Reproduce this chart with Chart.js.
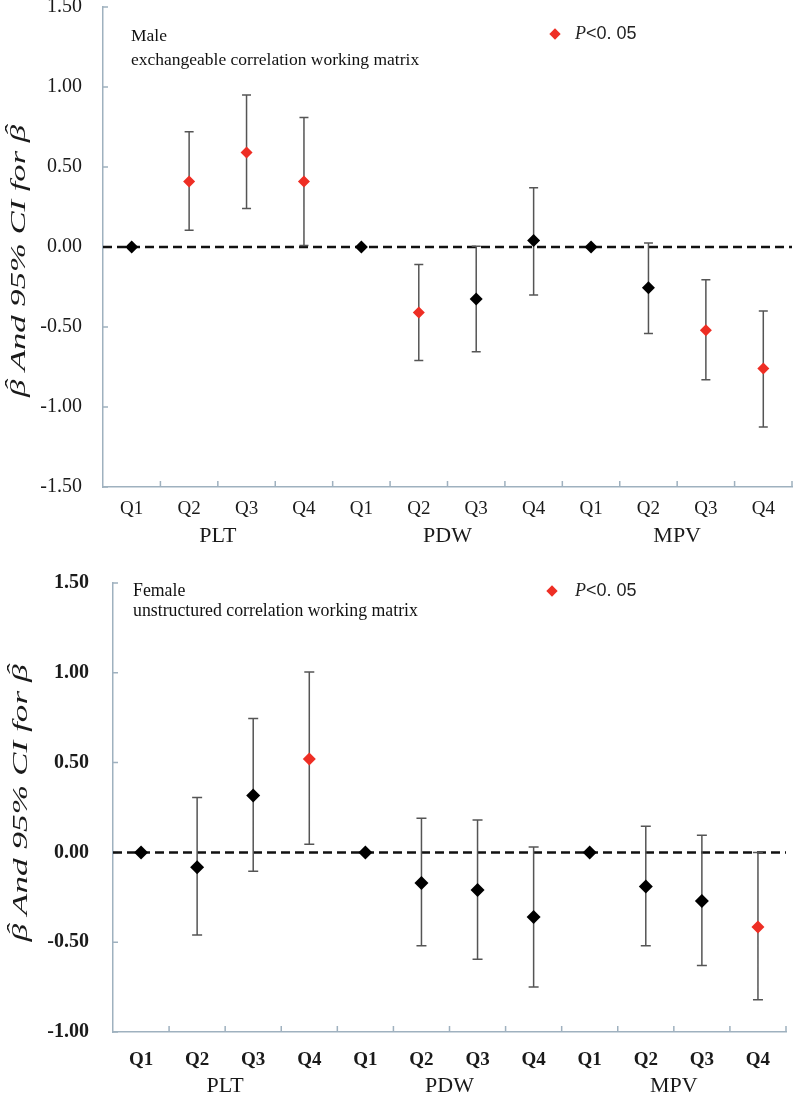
<!DOCTYPE html>
<html>
<head>
<meta charset="utf-8">
<script src="https://cdn.jsdelivr.net/npm/chart.js@4.4.1/dist/chart.umd.min.js"></script>
<style>
  body { margin: 0; background: #fff; }
  .panel { position: absolute; left: 0; width: 800px; }
  #topPanel { top: 0; height: 545px; }
  #bottomPanel { top: 545px; height: 550px; }
  .note { position: absolute; font-family: "Liberation Serif", serif; color: #111; white-space: nowrap; }
  .legend { position: absolute; font-size: 18px; color: #222; white-space: nowrap; }
  .legend i { font-family: "Liberation Serif", serif; }
  .legend span.txt { font-family: "Liberation Sans", sans-serif; }
  .diamond { position: absolute; width: 8px; height: 8px; background: #ee2e24; transform: rotate(45deg); }
</style>
</head>
<body>
<div class="panel" id="topPanel"><canvas id="maleChart"></canvas></div>
<div class="panel" id="bottomPanel"><canvas id="femaleChart"></canvas></div>

<div class="note" style="left:131px; top:23px; line-height:24px; font-size:17.5px;">Male<br>exchangeable correlation working matrix</div>
<div class="legend" style="left:551px; top:30px;"><div class="diamond" style="left:0; top:0;"></div></div>
<div class="legend" style="left:575px; top:23px;"><i>P</i><span class="txt">&lt;0. 05</span></div>

<div class="note" style="left:133px; top:580px; line-height:20px; font-size:17.8px;">Female<br>unstructured correlation working matrix</div>
<div class="legend" style="left:548px; top:587px;"><div class="diamond" style="left:0; top:0;"></div></div>
<div class="legend" style="left:575px; top:580px;"><i>P</i><span class="txt">&lt;0. 05</span></div>

<script>
var categories = ["Q1", "Q2", "Q3", "Q4", "Q1", "Q2", "Q3", "Q4", "Q1", "Q2", "Q3", "Q4"];
var groups = ["PLT", "PDW", "MPV"];

// male, exchangeable correlation working matrix
var maleBeta  = [0, 0.41, 0.59, 0.41, 0, -0.41, -0.325, 0.04, 0, -0.255, -0.52, -0.76];
var maleLower = [null, 0.105, 0.24, 0.01, null, -0.71, -0.655, -0.30, null, -0.54, -0.83, -1.125];
var maleUpper = [null, 0.72, 0.95, 0.81, null, -0.11, 0.005, 0.37, null, 0.025, -0.205, -0.40];
var maleSig   = [false, true, true, true, false, true, false, false, false, false, true, true];
var maleTicks = [-1.5, 1.5];

// female, unstructured correlation working matrix
var femaleBeta  = [0, -0.083, 0.317, 0.52, 0, -0.17, -0.21, -0.36, 0, -0.19, -0.27, -0.415];
var femaleLower = [null, -0.46, -0.105, 0.045, null, -0.52, -0.595, -0.75, null, -0.52, -0.63, -0.82];
var femaleUpper = [null, 0.305, 0.745, 1.005, null, 0.19, 0.18, 0.03, null, 0.145, 0.095, 0.0];
var femaleSig   = [false, false, false, true, false, false, false, false, false, false, false, true];
var femaleTicks = [-1.0, 1.5];

var axisColor = "#9fb1bf";
var red = "#ee2e24";
var serif = "'Liberation Serif', 'Times New Roman', serif";

// dashed zero line, error bars and inner tick marks
var forestPlugin = {
    id: "forest",
    beforeDatasetsDraw(chart, args, opts) {
        var ctx = chart.ctx;
        var x = chart.scales.x, y = chart.scales.y;
        var area = chart.chartArea;
        ctx.save();

        ctx.strokeStyle = axisColor;
        ctx.lineWidth = 1.5;
        ctx.beginPath();
        for (var i = 1; i <= categories.length; i++) {
            var px = x.getPixelForValue(i - 0.5);
            ctx.moveTo(px, area.bottom);
            ctx.lineTo(px, area.bottom - 6);
        }
        y.ticks.forEach(t => {
            var py = y.getPixelForValue(t.value);
            ctx.moveTo(area.left, py);
            ctx.lineTo(area.left + 5, py);
        });
        ctx.stroke();

        // zero reference line
        var y0 = y.getPixelForValue(0);
        ctx.strokeStyle = "#111";
        ctx.lineWidth = 2.5;
        ctx.setLineDash([9, 5]);
        ctx.beginPath();
        ctx.moveTo(area.left, y0);
        ctx.lineTo(area.right, y0);
        ctx.stroke();
        ctx.setLineDash([]);

        // 95% CI whiskers
        ctx.strokeStyle = "#555";
        ctx.lineWidth = 1.5;
        ctx.beginPath();
        opts.lower.forEach((lo, i) => {
            var hi = opts.upper[i];
            if (lo === null || hi === null) return;
            var px = x.getPixelForValue(i);
            var pLo = y.getPixelForValue(lo), pHi = y.getPixelForValue(hi);
            ctx.moveTo(px, pLo); ctx.lineTo(px, pHi);
            ctx.moveTo(px - opts.cap, pLo); ctx.lineTo(px + opts.cap, pLo);
            ctx.moveTo(px - opts.cap, pHi); ctx.lineTo(px + opts.cap, pHi);
        });
        ctx.stroke();
        ctx.restore();
    },
    // rotated y title "β̂ And 95% CI for β̂" (hat drawn on top of each beta)
    afterDraw(chart, args, opts) {
        var t = opts.title;
        var ctx = chart.ctx;
        var parts = ["\u03B2", " And 95% CI for ", "\u03B2"];
        ctx.save();
        ctx.font = "italic " + t.size + "px " + serif;
        var widths = parts.map(p => ctx.measureText(p).width);
        var total = widths.reduce((a, b) => a + b, 0);
        ctx.translate(t.x, t.y);
        ctx.rotate(-Math.PI / 2);
        ctx.scale(t.length / total, 1);
        ctx.fillStyle = "#1a1a1a";
        ctx.textBaseline = "alphabetic";
        var pos = -total / 2;
        parts.forEach((p, i) => {
            ctx.fillText(p, pos, 0);
            if (p === "\u03B2") {
                ctx.fillText("\u02C6", pos + widths[i] * 0.3, -t.size * 0.22);
            }
            pos += widths[i];
        });
        ctx.restore();
    }
};

function makeChart(id, beta, lower, upper, sig, range, s) {
    return new Chart(id, {
        type: "line",
        data: {
            labels: categories,
            datasets: [{
                data: beta,
                showLine: false,
                pointStyle: "rectRot",
                pointRadius: sig.map(v => v ? s.redRadius : s.blackRadius),
                pointHoverRadius: sig.map(v => v ? s.redRadius : s.blackRadius),
                pointBackgroundColor: sig.map(v => v ? red : "#000"),
                pointBorderColor: sig.map(v => v ? red : "#000"),
                pointBorderWidth: 0
            }]
        },
        options: {
            responsive: true,
            maintainAspectRatio: false,
            animation: false,
            events: [],
            layout: { padding: { left: 0, right: s.right, top: s.top, bottom: 0 } },
            plugins: {
                legend: { display: false },
                tooltip: { enabled: false },
                forest: { lower: lower, upper: upper, cap: s.cap, title: s.title }
            },
            scales: {
                x: {
                    type: "category",
                    offset: true,
                    weight: 0,
                    grid: { display: false, drawTicks: false },
                    border: { display: true, color: axisColor, width: 1.5 },
                    ticks: {
                        color: "#1a1a1a",
                        padding: s.qPad,
                        maxRotation: 0,
                        autoSkip: false,
                        font: { family: serif, size: 19, weight: s.weight }
                    },
                    afterFit: sc => { sc.height = s.qHeight; sc.paddingLeft = 0; sc.paddingRight = 0; }
                },
                group: {
                    type: "category",
                    labels: groups,
                    position: "bottom",
                    offset: true,
                    weight: 1,
                    grid: { display: false, drawTicks: false },
                    border: { display: false },
                    ticks: {
                        color: "#1a1a1a",
                        padding: s.gPad,
                        maxRotation: 0,
                        font: { family: serif, size: 22 }
                    },
                    afterFit: sc => { sc.height = s.gHeight; sc.paddingLeft = 0; sc.paddingRight = 0; }
                },
                y: {
                    min: range[0],
                    max: range[1],
                    grid: { display: false, drawTicks: false },
                    border: { display: true, color: axisColor, width: 1.5 },
                    ticks: {
                        stepSize: 0.5,
                        color: "#1a1a1a",
                        padding: s.yPad,
                        font: { family: serif, size: 20, weight: s.weight },
                        callback: v => v.toFixed(2)
                    },
                    afterFit: sc => { sc.width = s.left; sc.paddingTop = 0; sc.paddingBottom = 0; }
                }
            }
        },
        plugins: [forestPlugin]
    });
}

makeChart("maleChart", maleBeta, maleLower, maleUpper, maleSig, maleTicks, {
    left: 103, right: 8, top: 7, qHeight: 34, gHeight: 24, qPad: 11, gPad: 2, yPad: 21,
    weight: "normal", cap: 4.5, redRadius: 6, blackRadius: 6.5,
    title: { x: 25, y: 261, size: 22, length: 272 }
});

makeChart("femaleChart", femaleBeta, femaleLower, femaleUpper, femaleSig, femaleTicks, {
    left: 113, right: 14, top: 38, qHeight: 41, gHeight: 22, qPad: 17, gPad: 0, yPad: 24,
    weight: "bold", cap: 5, redRadius: 6.5, blackRadius: 7,
    title: { x: 27, y: 258, size: 22, length: 277 }
});
</script>
</body>
</html>
